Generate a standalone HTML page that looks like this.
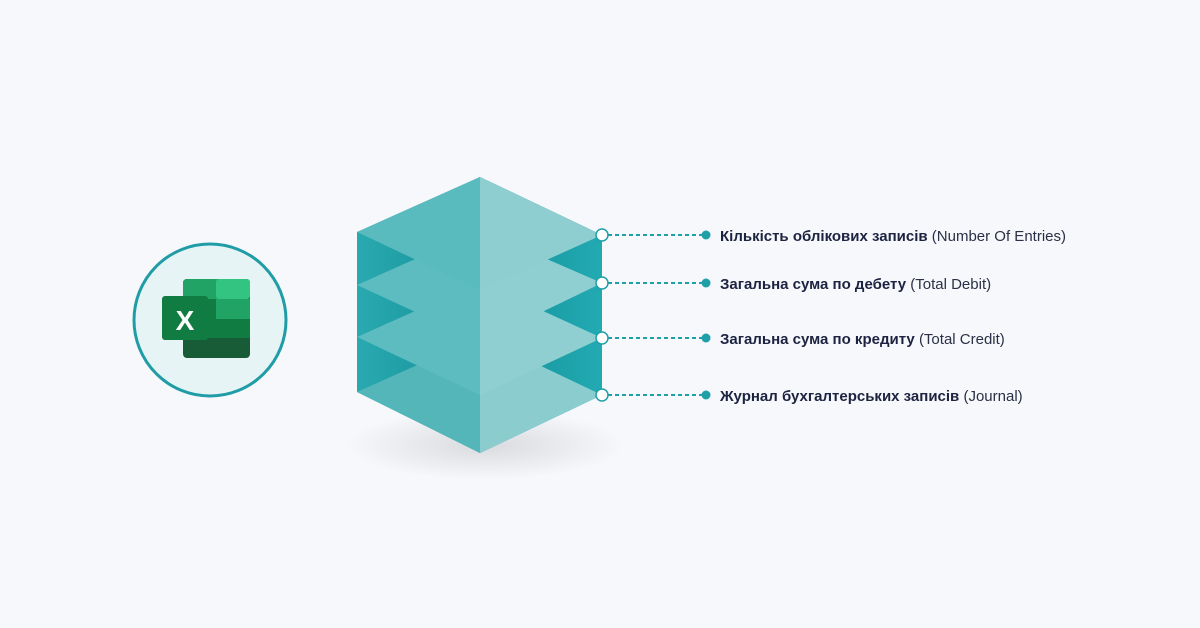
<!DOCTYPE html>
<html><head><meta charset="utf-8"><style>
html,body{margin:0;padding:0;background:#f7f8fc;}
body{width:1200px;height:628px;overflow:hidden;position:relative;font-family:"Liberation Sans",sans-serif;}
.t{position:absolute;left:720px;font-size:15px;color:#1c2340;white-space:nowrap;line-height:18px;}
.t b{font-weight:700;}
.t span{color:#2a3045;font-weight:400;}
</style></head><body>
<svg width="1200" height="628" style="position:absolute;left:0;top:0">
<defs>
<radialGradient id="sh" cx="0.5" cy="0.5" r="0.5">
<stop offset="0" stop-color="#000" stop-opacity="0.12"/><stop offset="1" stop-color="#000" stop-opacity="0"/>
</radialGradient>
<linearGradient id="bk" x1="0" y1="0" x2="1" y2="0">
<stop offset="0" stop-color="#2aa9b0"/><stop offset="0.5" stop-color="#138f98"/><stop offset="1" stop-color="#22aab2"/>
</linearGradient>
</defs>
<ellipse cx="485" cy="445" rx="140" ry="35" fill="url(#sh)"/>
<circle cx="210" cy="320" r="76" fill="#e7f4f5" stroke="#1f9ca6" stroke-width="3"/>
<rect x="183" y="279" width="67" height="79" rx="4" fill="#185c37"/>
<rect x="183" y="279" width="67" height="59" rx="4" fill="#107c41"/>
<rect x="183" y="279" width="67" height="20" rx="4" fill="#21a366"/>
<rect x="216" y="279" width="34" height="20" rx="3" fill="#33c481"/>
<rect x="216" y="299" width="34" height="20" fill="#21a366"/>
<rect x="216" y="319" width="34" height="19" fill="#107c41"/>
<rect x="162" y="296" width="46" height="44" rx="3" fill="#107c41"/>
<text x="185" y="330" text-anchor="middle" font-family="Liberation Sans,sans-serif" font-weight="700" font-size="28" fill="#fff">X</text>
<polygon points="357,232 480,177 602,235 602,395 480,453 357,392" fill="url(#bk)"/>
<polygon points="357,392 480,337 480,453" fill="#55b6ba"/>
<polygon points="480,337 602,395 480,453" fill="#8bcccf"/>
<polygon points="357,337 480,282 480,395" fill="#5cbcbf"/>
<polygon points="480,282 602,338 480,395" fill="#8fcfd1"/>
<polygon points="357,285 480,230 480,342" fill="#5cbcbf"/>
<polygon points="480,230 602,283 480,342" fill="#8fcfd1"/>
<polygon points="357,232 480,177 480,290" fill="#5abbbe"/>
<polygon points="480,177 602,235 480,290" fill="#8ecdd0"/>
<g stroke="#1fa0a8" stroke-width="2" stroke-dasharray="4,3">
<line x1="608" y1="235" x2="704" y2="235"/>
<line x1="608" y1="283" x2="704" y2="283"/>
<line x1="608" y1="338" x2="704" y2="338"/>
<line x1="608" y1="395" x2="704" y2="395"/>
</g>
<g fill="#fff" stroke="#1fa0a8" stroke-width="1.5">
<circle cx="602" cy="235" r="6"/><circle cx="602" cy="283" r="6"/><circle cx="602" cy="338" r="6"/><circle cx="602" cy="395" r="6"/>
</g>
<g fill="#1fa0a8">
<circle cx="706" cy="235" r="4.5"/><circle cx="706" cy="283" r="4.5"/><circle cx="706" cy="338" r="4.5"/><circle cx="706" cy="395" r="4.5"/>
</g>
</svg>
<div class="t" style="top:228px"><b>Кількість облікових записів</b> <span>(Number Of Entries)</span></div>
<div class="t" style="top:276px"><b>Загальна сума по дебету</b> <span>(Total Debit)</span></div>
<div class="t" style="top:331px"><b>Загальна сума по кредиту</b> <span>(Total Credit)</span></div>
<div class="t" style="top:388px"><b>Журнал бухгалтерських записів</b> <span>(Journal)</span></div>
</body></html>
